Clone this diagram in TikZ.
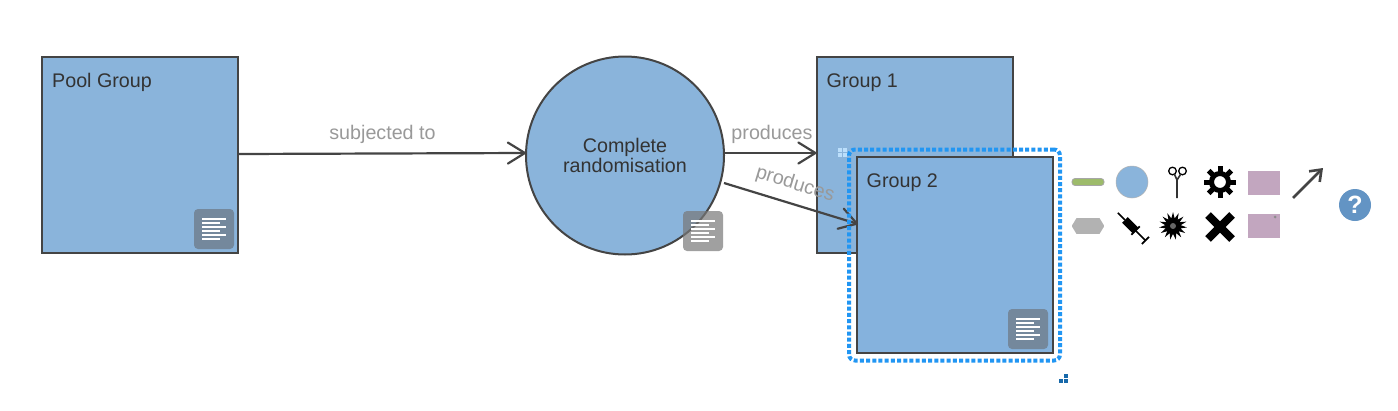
\documentclass[tikz,border=0pt]{standalone}
\usepackage{fontspec}
\setmainfont{Liberation Sans}
\usetikzlibrary{arrows.meta,shapes.geometric,calc}
\definecolor{boxfill}{HTML}{8AB4DB}
\definecolor{boxfillb}{HTML}{85B2DD}
\definecolor{edge}{HTML}{444444}
\definecolor{lab}{HTML}{999999}
\definecolor{sel}{HTML}{2196F3}
\definecolor{ink}{HTML}{333333}
\definecolor{pinkbox}{HTML}{C2A6BF}
\definecolor{barg}{HTML}{9DBB6B}
\definecolor{helpb}{HTML}{6394C4}
\definecolor{docdark}{HTML}{74889C}
\tikzset{
  every node/.style={font=\fontsize{19.7}{20}\selectfont},
  entity/.style={draw=edge,line width=2pt,fill=boxfill,text=ink,minimum width=196pt,minimum height=196pt,inner sep=0pt,outer sep=0pt},
  title/.style={text=ink,anchor=north west,inner sep=0pt},
  rel/.style={draw=edge,line width=2.2pt,-{Straight Barb[length=17pt,width=21pt,line width=2.2pt,round]}},
  rellab/.style={text=lab,inner sep=0pt},
  docbox/.style={fill=#1,rounded corners=4pt,minimum size=40pt,inner sep=0pt},
  docline/.style={draw=white,line width=1.6pt},
  icon/.style={inner sep=0pt,outer sep=0pt},
}
\newcommand{\doclinesdown}[1]{%
  \foreach \yy/\ww in {-10/12,-6/6,-2/12,2/6,6/12,10/6}
    \draw[docline] ($(#1)+(-12,\yy)$) -- ($(#1)+(\ww,\yy)$);}
\begin{document}
\begin{tikzpicture}[x=1pt,y=-1pt]
\useasboundingbox (0,0) rectangle (1398,410);
\fill[white] (0,0) rectangle (1398,410);

\node[entity,label={[title,xshift=10pt,yshift=-16.5pt]north west:Pool Group}] (pool) at (140,155) {};
\node[docbox=docdark] (doc1) at (214,229) {};
\doclinesdown{doc1}

\node[entity,circle,minimum size=198pt,align=center] (rand) at (625,155.5) {Complete\\randomisation};
\node[docbox={black!53,fill opacity=.7}] (doc2) at (703,231) {};
\doclinesdown{doc2}

\node[entity,label={[title,xshift=10pt,yshift=-16.5pt]north west:Group 1}] (g1) at (914.5,155) {};

\coordinate (g2in) at (858,224);
\draw[rel] ([yshift=1pt,xshift=1pt]pool.east) -- ([yshift=2.5pt,xshift=0pt]rand.west);
\draw[rel] ($(rand.center)+(99,-2.5)$) -- ([yshift=2pt]g1.west);
\node[rellab] (l1) at (382.5,134.5) {subjected to};
\node[rellab] (l2) at (772,134.5) {produces};

\node[entity,fill=boxfillb,label={[title,xshift=10pt,yshift=-16.5pt]north west:Group 2}] (g2) at (954.5,255) {};
\node[docbox=docdark] (doc3) at (1028,329) {};
\doclinesdown{doc3}

\draw[rel] ($(rand.center)+(99,27.5)$) -- (g2in);
\node[rellab,rotate=-17] (l3) at (795,184.5) {produces};

% selection outline
\node[draw=sel,line width=4pt,dash pattern=on 4pt off 2.2pt,rounded corners=6pt,minimum width=211pt,minimum height=211pt,inner sep=0pt] (selbox) at (954.5,255) {};
% handles
\foreach \hx/\hy in {838/148,843/148,838/153,843/153}
  \fill[white!70!sel] (\hx,\hy) rectangle ++(4,4);
\foreach \hx/\hy in {1064/374,1059/379,1064/379}
  \fill[sel!70!black] (\hx,\hy) rectangle ++(4,4);

% palette
\node[icon,fill=barg,draw=black!35,line width=.8pt,rounded corners=3pt,minimum width=32pt,minimum height=7pt] (i1) at (1088,182) {};
\node[icon,fill=boxfill,circle,draw=black!30,line width=.5pt,minimum size=32pt] (i2) at (1132,182) {};
\node[icon] (i3) at (1177,182) {};
\draw[black,line width=1.3pt] (1172.5,171) circle (3.8) (1182.5,171) circle (3.8);
\draw[black!80,line width=1.6pt] (1177,198) -- (1177,180) -- (1174.5,174.5);
\draw[black!80,line width=1.6pt] (1177,180) -- (1180.5,174.5);
\node[icon,draw=black,line width=5pt,circle,minimum size=17pt] (i4) at (1220,182) {};
\foreach \a in {0,45,...,315}
  \fill[black,rotate around={\a:(1220,182)}] (1217.5,166) rectangle (1222.5,173);
\node[icon,fill=pinkbox,minimum width=32pt,minimum height=24pt] (i5) at (1264,183) {};
\draw[draw=edge,line width=2.6pt,-{Straight Barb[length=10pt,width=15pt,line width=2.6pt]}] (1293,198) -- (1323,168);
\node[icon,fill=black!30,minimum width=32pt,minimum height=16pt] (i6) at (1088,226) {};
\fill[white] (1071,217) -- (1077,217) -- (1071.5,226) -- (1077,235) -- (1071,235) -- cycle;
\fill[white] (1105,217) -- (1099,217) -- (1104.5,226) -- (1099,235) -- (1105,235) -- cycle;
% syringe
\begin{scope}[rotate around={-45:(1132,227)}]
  \fill[black] (1122,223) rectangle (1137,231);
  \draw[black,line width=1.6pt] (1112,227) -- (1122,227);
  \draw[black,line width=1.6pt] (1137,227) -- (1151,227);
  \draw[black,line width=1.8pt] (1137,221) -- (1137,233);
  \draw[black,line width=1.8pt] (1151,222) -- (1151,232);
\end{scope}
\node[icon,star,star points=15,star point ratio=1.8,fill=black,minimum size=28pt] (i7) at (1173,226) {};
\fill[black!60] (1173,226) circle (3);
\node[icon] (i8) at (1220,227) {};
\draw[black,line width=8pt] (1208,215) -- (1232,239) (1232,215) -- (1208,239);
\node[icon,fill=pinkbox,minimum width=32pt,minimum height=24pt] (i9) at (1264,226) {};
\fill[black!45] (1275,217) circle (1.5);
\node[icon,circle,fill=helpb,minimum size=32pt,text=white,font=\fontsize{25}{25}\selectfont\bfseries] (help) at (1355,205) {?};
\end{tikzpicture}
\end{document}
